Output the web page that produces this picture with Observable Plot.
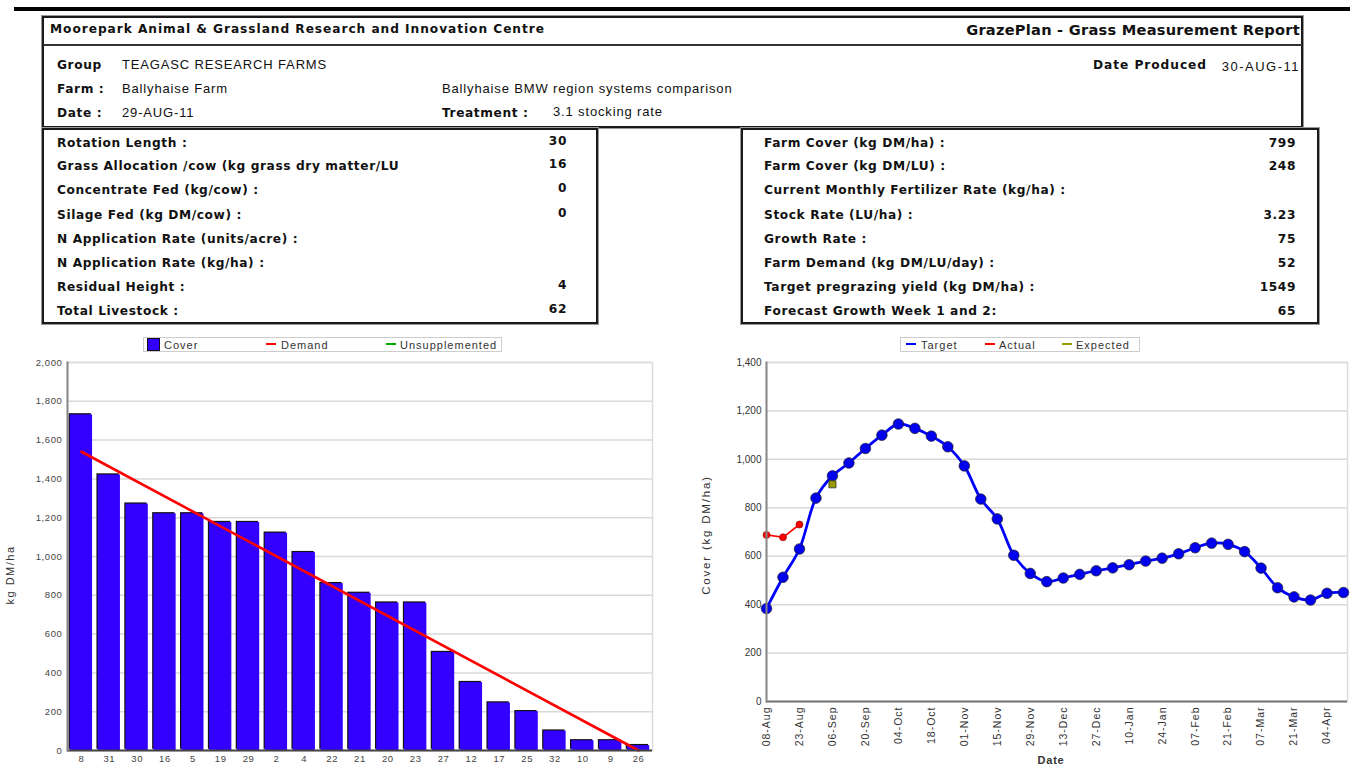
<!DOCTYPE html>
<html><head><meta charset="utf-8">
<script src="https://cdn.jsdelivr.net/npm/d3@7"></script>
<script src="https://cdn.jsdelivr.net/npm/@observablehq/plot@0.6"></script>
<style>
body{margin:0;width:1350px;height:765px;position:relative;overflow:hidden;background:#fff;font-family:"DejaVu Sans",sans-serif;}
.abs{position:absolute;white-space:nowrap;line-height:1;}
.box{position:absolute;border:2px solid #1a1a1a;box-sizing:border-box;box-shadow:0 0 0 1px #999;}
.b{font-family:"DejaVu Sans";font-weight:bold;font-size:12.2px;letter-spacing:0.6px;color:#111;}
.r{font-family:"Liberation Sans",Arial;font-size:13px;letter-spacing:0.85px;color:#111;}
.lg{font-family:"Liberation Sans",Arial;font-size:11px;color:#333;letter-spacing:1px;}
.ax{font-family:"Liberation Sans",Arial;font-size:11px;color:#333;letter-spacing:1.5px;}
.chart{position:absolute;}
</style></head><body>
<script>
// ---------- data ----------
const reportTitle = "Moorepark Animal & Grassland Research and Innovation Centre";
const reportName = "GrazePlan - Grass Measurement Report";
const infoLabels = ["Group", "Farm :", "Date :"];
const infoValues = ["TEAGASC RESEARCH FARMS", "Ballyhaise Farm", "29-AUG-11"];
const systemText = "Ballyhaise BMW region systems comparison";
const treatmentLabel = "Treatment :";
const treatmentValue = "3.1 stocking rate";
const producedLabel = "Date Produced";
const producedValue = "30-AUG-11";

const leftLabels = ["Rotation Length :", "Grass Allocation /cow (kg grass dry matter/LU", "Concentrate Fed (kg/cow)  :", "Silage Fed (kg DM/cow)  :", "N Application Rate (units/acre) :", "N Application Rate (kg/ha) :", "Residual Height :", "Total Livestock :"];
const leftValues = ["30", "16", "0", "0", "", "", "4", "62"];
const rightLabels = ["Farm Cover (kg DM/ha) :", "Farm Cover (kg DM/LU) :", "Current Monthly Fertilizer Rate (kg/ha) :", "Stock Rate (LU/ha) :", "Growth Rate :", "Farm Demand (kg DM/LU/day) :", "Target pregrazing yield (kg DM/ha) :", "Forecast Growth Week 1 and 2:"];
const rightValues = ["799", "248", "", "3.23", "75", "52", "1549", "65"];

// wedge chart
const paddocks = ["8","31","30","16","5","19","29","2","4","22","21","20","23","27","12","17","25","32","10","9","26"];
const coverValues = [1730,1420,1270,1220,1220,1175,1175,1120,1020,860,810,760,760,505,350,245,200,100,50,50,25];
const demandPaddocks = ["8","26"];
const demandValues = [1540,0];
const wedgeTicks = [0,200,400,600,800,1000,1200,1400,1600,1800,2000];

// feed budget chart
const weeks = ["08-Aug","16-Aug","23-Aug","30-Aug","06-Sep","13-Sep","20-Sep","27-Sep","04-Oct","11-Oct","18-Oct","25-Oct","01-Nov","08-Nov","15-Nov","22-Nov","29-Nov","06-Dec","13-Dec","20-Dec","27-Dec","03-Jan","10-Jan","17-Jan","24-Jan","31-Jan","07-Feb","14-Feb","21-Feb","28-Feb","07-Mar","14-Mar","21-Mar","28-Mar","04-Apr","11-Apr"];
const targetValues = [384,513,630,840,932,985,1045,1100,1146,1128,1096,1052,973,836,754,604,529,495,510,525,540,552,565,580,592,610,635,654,649,619,551,470,432,419,447,450];
const actualWeeks = ["08-Aug","16-Aug","23-Aug"];
const actualValues = [688,678,731];
const expectedWeeks = ["06-Sep"];
const expectedValues = [897];
const dateTickLabels = ["08-Aug","23-Aug","06-Sep","20-Sep","04-Oct","18-Oct","01-Nov","15-Nov","29-Nov","13-Dec","27-Dec","10-Jan","24-Jan","07-Feb","21-Feb","07-Mar","21-Mar","04-Apr"];
const coverTicks = [0,200,400,600,800,1000,1200,1400];

// ---------- helpers ----------
function el(cls, css, text){const d=document.createElement("div");d.className=cls;Object.assign(d.style,css);if(text!=null)d.textContent=text;document.body.appendChild(d);return d;}
function txt(s,x,y,cls,anchor){const css={top:y+"px",transform:"translateY(-50%)"};if(anchor==="end")css.right=(1350-x)+"px";else css.left=x+"px";return el("abs "+cls,css,s);}

// ---------- header ----------
el("abs",{left:"14px",top:"7px",width:"1336px",height:"4px",background:"#000"});
el("box",{left:"42px",top:"16px",width:"1261px",height:"112px"});
el("abs",{left:"43px",top:"44px",width:"1259px",height:"1.5px",background:"#333"});
txt(reportTitle,50,29,"b").style.letterSpacing="0.95px";
const rt = txt(reportName,1300,30,"b",'end'); rt.style.fontSize="14.6px"; rt.style.letterSpacing="0.25px";
const infoY=[65,89,113];
infoLabels.forEach((l,i)=>{txt(l,57,infoY[i],"b");txt(infoValues[i],122,infoY[i]-1,"r");});
txt(systemText,442,88,"r");
txt(treatmentLabel,442,113,"b");
txt(treatmentValue,553,111,"r");
txt(producedLabel,1093,65,"b").style.letterSpacing="0.95px";
txt(producedValue,1300,66,"r","end").style.letterSpacing="1.5px";

el("box",{left:"42px",top:"128px",width:"556px",height:"196px"});
el("box",{left:"741px",top:"128px",width:"578px",height:"196px"});
const rowY=[143,166,190,215,239,263,287,311];
leftLabels.forEach((l,i)=>{txt(l,57,rowY[i],"b");if(leftValues[i])txt(leftValues[i],567,rowY[i]-2,"b","end");});
rightLabels.forEach((l,i)=>{txt(l,764,rowY[i],"b");if(rightValues[i])txt(rightValues[i],1296,rowY[i],"b","end");});

// ---------- legends ----------
el("abs",{left:"143px",top:"337px",width:"359px",height:"15px",border:"1px solid #ccc",boxSizing:"border-box"});
el("abs",{left:"147px",top:"338px",width:"13px",height:"13px",background:"#3300ff",border:"1px solid #111",boxSizing:"border-box"});
txt("Cover",164,344.5,"lg");
el("abs",{left:"266px",top:"343px",width:"10px",height:"2px",background:"#ff0000"});
txt("Demand",281,344.5,"lg");
el("abs",{left:"386px",top:"343px",width:"10px",height:"2px",background:"#00aa00"});
txt("Unsupplemented",400,344.5,"lg");

el("abs",{left:"900px",top:"337px",width:"240px",height:"15px",border:"1px solid #ccc",boxSizing:"border-box"});
el("abs",{left:"906px",top:"343px",width:"10px",height:"2px",background:"#0000ff"});
txt("Target",921,344.5,"lg");
el("abs",{left:"985px",top:"343px",width:"10px",height:"2px",background:"#ff0000"});
txt("Actual",999,344.5,"lg");
el("abs",{left:"1062px",top:"343px",width:"10px",height:"2px",background:"#999900"});
txt("Expected",1076,344.5,"lg");

// axis titles
el("abs ax",{left:"10px",top:"575px",transform:"translate(-50%,-50%) rotate(-90deg)"},"kg DM/ha");
el("abs ax",{left:"707px",top:"535px",transform:"translate(-50%,-50%) rotate(-90deg)",fontSize:"11.5px",letterSpacing:"1.8px"},"Cover (kg DM/ha)");
el("abs",{left:"1051px",top:"760px",transform:"translate(-50%,-50%)",fontFamily:"Liberation Sans, Arial",fontWeight:"bold",fontSize:"11px",letterSpacing:"0.8px",color:"#333"},"Date");

// ---------- left chart ----------
const bars = paddocks.map((p,i)=>({paddock:p,cover:coverValues[i]}));
const demand = demandPaddocks.map((p,i)=>({paddock:p,demand:demandValues[i]}));
const fmt = d3.format(",");
const left = Plot.plot({
  width:680,height:435,marginTop:32,marginBottom:15,marginLeft:67,marginRight:28,
  style:{fontFamily:"Liberation Sans, Arial",fontSize:"9.5px",color:"#444",background:"transparent",overflow:"visible"},
  x:{type:"band",domain:paddocks,paddingInner:0.2,paddingOuter:0.1,round:false},
  y:{domain:[0,2000]},
  marks:[
    Plot.gridY(wedgeTicks,{stroke:"#d8d8d8",strokeOpacity:1,strokeWidth:1.5}),
    Plot.frame({stroke:"#dcdcdc",strokeWidth:1.5}),
    Plot.rectY(bars,{x:"paddock",y:"cover",fill:"#111",dx:-1.2,dy:-1.2}),
    Plot.rectY(bars,{x:"paddock",y:"cover",fill:"#3300ff"}),
    Plot.line(demand,{x:"paddock",y:"demand",stroke:"#ff0000",strokeWidth:2.6}),
    Plot.ruleY([0],{stroke:"#444",strokeWidth:2}),
    Plot.frame({anchor:"left",stroke:"#888",strokeWidth:2}),
    Plot.axisY({ticks:wedgeTicks,tickFormat:fmt,tickSize:0,tickPadding:5,label:null}),
    Plot.axisX({tickSize:0,tickPadding:5,label:null})
  ]
});
left.classList.add("chart");
Object.assign(left.style,{left:"0px",top:"330px"});
document.body.appendChild(left);
d3.select(left).selectAll('[aria-label="x-axis tick label"] text, [aria-label="y-axis tick label"] text').style("letter-spacing","0.6px");

// ---------- right chart ----------
const target = weeks.map((w,i)=>({week:w,cover:targetValues[i]}));
const actual = actualWeeks.map((w,i)=>({week:w,cover:actualValues[i]}));
const expected = expectedWeeks.map((w,i)=>({week:w,cover:expectedValues[i]}));
const right = Plot.plot({
  width:670,height:435,marginTop:32,marginBottom:64,marginLeft:86,marginRight:3,
  style:{fontFamily:"Liberation Sans, Arial",fontSize:"10px",color:"#333",background:"transparent",overflow:"visible"},
  x:{type:"point",domain:weeks,padding:0,insetRight:4,round:false},
  y:{domain:[0,1400]},
  marks:[
    Plot.gridY(coverTicks,{stroke:"#d8d8d8",strokeOpacity:1,strokeWidth:1.5}),
    Plot.frame({stroke:"#dcdcdc",strokeWidth:1.5}),
    Plot.line(actual,{x:"week",y:"cover",stroke:"#ff0000",strokeWidth:1.6}),
    Plot.dot(actual,{x:"week",y:"cover",r:3.5,fill:"#ff0000",stroke:"#7a0000",strokeWidth:0.6}),
    Plot.line(target,{x:"week",y:"cover",stroke:"#0000ff",strokeWidth:2.8,curve:"catmull-rom"}),
    Plot.dot(target,{x:"week",y:"cover",r:5.3,fill:"#0000ee",stroke:"#222",strokeWidth:0.7}),
    Plot.dot(expected,{x:"week",y:"cover",symbol:"square",r:4,fill:"#999900",stroke:"#333",strokeWidth:0.8}),
    Plot.ruleY([0],{stroke:"#777",strokeWidth:2}),
    Plot.frame({anchor:"left",stroke:"#888",strokeWidth:2}),
    Plot.axisY({ticks:coverTicks,tickFormat:fmt,tickSize:0,tickPadding:5,label:null}),
    Plot.axisX({ticks:dateTickLabels,tickRotate:-90,tickSize:0,tickPadding:5,label:null})
  ]
});
right.classList.add("chart");
Object.assign(right.style,{left:"680px",top:"330px"});
document.body.appendChild(right);
d3.select(right).selectAll('[aria-label="x-axis tick label"] text').style("letter-spacing","1px").style("font-size","10.5px");
</script>
</body></html>
